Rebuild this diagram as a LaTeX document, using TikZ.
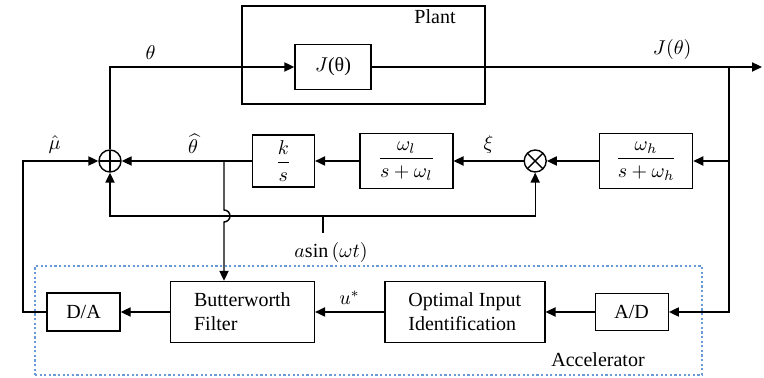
\documentclass[tikz,border=0pt]{standalone}
\usepackage{fontspec}
\setmainfont{Liberation Serif}
\usetikzlibrary{positioning, arrows.meta}
\definecolor{accelBlue}{HTML}{6A9AD8}

\begin{document}
\begin{tikzpicture}[x=0.5pt, y=0.5pt, node distance=20pt,
    blk/.style={draw, line width=0.7pt, align=center, inner sep=2pt},
    sumnode/.style={draw, circle, line width=0.7pt, minimum size=11pt, inner sep=0pt,
      path picture={\draw[line width=0.7pt] (path picture bounding box.north) -- (path picture bounding box.south)
        (path picture bounding box.west) -- (path picture bounding box.east);}},
    multnode/.style={draw, circle, line width=0.7pt, minimum size=11pt, inner sep=0pt,
      path picture={\draw[line width=0.7pt] (path picture bounding box.north west) -- (path picture bounding box.south east)
        (path picture bounding box.north east) -- (path picture bounding box.south west);}},
    accel/.style={draw=accelBlue, line width=1.1pt, dash pattern=on 1.1pt off 1.2pt},
    arr/.style={-{Triangle[length=5pt, width=4.6pt]}, line width=0.7pt},
    ln/.style={line width=0.7pt}]
    \useasboundingbox (0,0) rectangle (764,378);
    \node[accel, minimum width=333.5pt, minimum height=54.5pt] (accbox) at (368.5,57.5) {};
    \node (acclbl) at (598,18) {Accelerator};
    \node[blk, minimum width=121.5pt, minimum height=49pt] (plant) at (363.5,323) {};
    \node (plantlbl) at (435,361) {Plant};
    \node[blk, minimum width=38pt, minimum height=22.5pt] (jblk) at (333,311) {$J$(θ)};
    \node[sumnode] (sum) at (110,217) {};
    \node[blk, right=65pt of sum, minimum width=31pt, minimum height=26pt] (integ) {$\displaystyle\frac{k}{s}$};
    \node[blk, right=22pt of integ, minimum width=46.5pt, minimum height=27.5pt] (lowp) {$\displaystyle\frac{\omega_l}{s+\omega_l}$};
    \node[multnode, right=35pt of lowp] (mult) {};
    \node[blk, right=26pt of mult, minimum width=46.5pt, minimum height=27.5pt] (highp) {$\displaystyle\frac{\omega_h}{s+\omega_h}$};
    \node[blk, minimum width=36.5pt, minimum height=19pt] (da) at (83.5,66) {D/A};
    \node[blk, right=24.5pt of da, minimum width=72pt, minimum height=30.5pt, align=left] (bw) {Butterworth\\Filter};
    \node[blk, right=34.5pt of bw, minimum width=80pt, minimum height=30.5pt, align=left] (optin) {Optimal Input\\Identification};
    \node[blk, right=24.5pt of optin, minimum width=36.5pt, minimum height=18.5pt] (ad) {A/D};
    \coordinate (tap) at (729,311);
    \coordinate (outp) at (762,311);
    \coordinate (sine) at (323,162);
    \coordinate (sinetip) at (323,145);
    \coordinate (thtap) at (224,217);
    \coordinate (hoptop) at (224,168);
    \coordinate (mutap) at (23,66);
    \node[below=1pt of sinetip, xshift=4pt] (sinelbl) {$a\mathrm{sin}\,(\omega t)$};
    \draw[arr] (sum.north) |- node[above, pos=0.61] {$\theta$} (jblk.west);
    \draw[arr] (jblk.east) -- node[above, pos=0.77] {$J(\theta)$} (outp);
    \draw[arr] (tap) |- (ad.east);
    \draw[arr] (tap |- highp.east) -- (highp.east);
    \draw[arr] (highp.west) -- (mult.east);
    \draw[arr] (mult.west) -- node[above] {$\xi$} (lowp.east);
    \draw[arr] (lowp.west) -- (integ.east);
    \draw[arr] (integ.west) -- node[above, pos=0.45] {$\widehat{\theta}$} (sum.east);
    \draw[arr] (sine) -| (sum.south);
    \draw[arr] (sine) -| (mult.south);
    \draw[ln] (sine) -- (sinetip);
    \draw[arr] (thtap) -- (hoptop) arc[start angle=90, end angle=-90, radius=3pt] -- (thtap |- bw.north);
    \draw[arr] (bw.west) -- (da.east);
    \draw[arr] (da.west) -- (mutap) |- node[above, pos=0.71] {$\hat{\mu}$} (sum.west);
    \draw[arr] (optin.west) -- node[above] {$u^*$} (bw.east);
    \draw[arr] (ad.west) -- (optin.east);
\end{tikzpicture}
\end{document}
